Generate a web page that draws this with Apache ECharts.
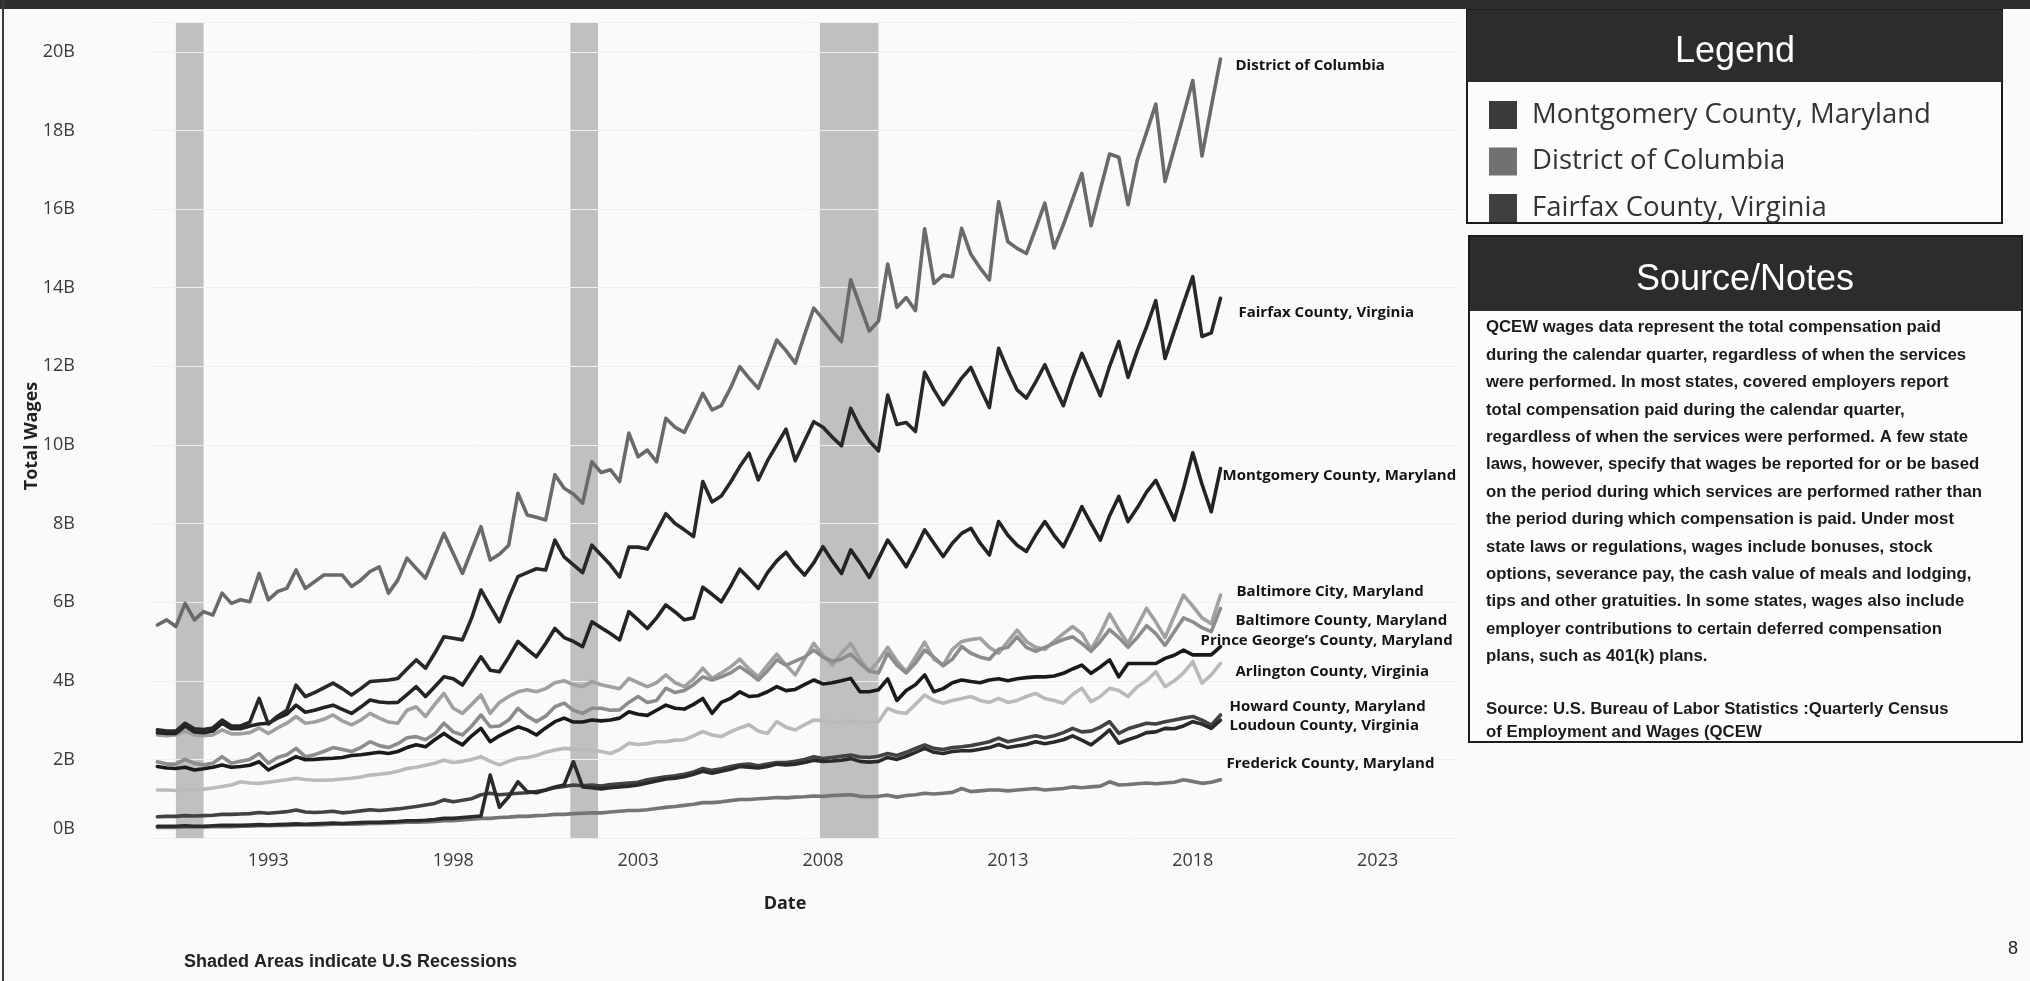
<!DOCTYPE html>
<html>
<head>
<meta charset="utf-8">
<script src="https://cdn.jsdelivr.net/npm/echarts@6/dist/echarts.min.js"></script>
<style>
  html, body { margin: 0; padding: 0; background: #fafafa; }
  #chart { width: 2030px; height: 981px; }
</style>
</head>
<body>
<div id="chart"></div>
<script>
// Quarterly total wages, billions of dollars, 1990 Q1 through 2018 Q4 (QCEW)
const firstYear = 1990;
const quarterCount = 116;
const yearTicks = [1993, 1998, 2003, 2008, 2013, 2018, 2023];
// US recessions (peak month to trough month), as decimal years
const recessions = [[1990.5, 1991.25], [2001.167, 2001.917], [2007.917, 2009.5]];

const districtOfColumbia = [
  5.42, 5.55, 5.38, 5.97,  5.55, 5.76, 5.67, 6.23,  5.97, 6.06, 6.01, 6.73,
  6.06, 6.27, 6.35, 6.82,  6.35, 6.52, 6.69, 6.69,  6.69, 6.40, 6.56, 6.78,
  6.90, 6.23, 6.56, 7.12,  6.86, 6.61, 7.18, 7.75,  7.24, 6.73, 7.33, 7.92,
  7.07, 7.22, 7.45, 8.77,  8.22, 8.16, 8.09, 9.24,  8.90, 8.75, 8.52, 9.57,
  9.30, 9.37, 9.07, 10.30, 9.70, 9.87, 9.57, 10.68, 10.45, 10.32, 10.80, 11.31,
  10.89, 11.00, 11.45, 11.99, 11.70, 11.44, 12.05, 12.67, 12.40, 12.08, 12.80, 13.48,
  13.20, 12.90, 12.63, 14.20, 13.55, 12.90, 13.15, 14.60, 13.50, 13.75, 13.42, 15.50,
  14.11, 14.32, 14.28, 15.51, 14.85, 14.50, 14.20, 16.19, 15.17, 15.00, 14.87, 15.50,
  16.15, 15.01, 15.60, 16.25, 16.91, 15.58, 16.50, 17.40, 17.32, 16.11, 17.25, 17.95,
  18.67, 16.70, 17.55, 18.40, 19.27, 17.35, 18.60, 19.82
];
const fairfax = [
  2.75, 2.72, 2.72, 2.92,  2.78, 2.76, 2.80, 3.00,  2.85, 2.85, 2.95, 3.55,
  2.90, 3.10, 3.25, 3.89,  3.60, 3.70, 3.82, 3.94,  3.80, 3.64, 3.80, 3.98,
  4.00, 4.02, 4.06, 4.30,  4.53, 4.32, 4.70, 5.12,  5.08, 5.04, 5.60, 6.31,
  5.90, 5.50, 6.10, 6.65,  6.75, 6.85, 6.82, 7.58,  7.15, 6.95, 6.75, 7.45,
  7.20, 6.95, 6.64, 7.40,  7.40, 7.35, 7.80, 8.25,  8.00, 7.84, 7.67, 9.07,
  8.55, 8.70, 9.05, 9.45,  9.79, 9.11, 9.60, 10.00, 10.40, 9.60, 10.10, 10.59,
  10.45, 10.20, 9.98, 10.93, 10.45, 10.10, 9.85, 11.27, 10.52, 10.57, 10.34, 11.85,
  11.40, 11.02, 11.35, 11.70, 11.97, 11.45, 10.95, 12.46, 11.90, 11.40, 11.19, 11.60,
  12.04, 11.50, 11.00, 11.70, 12.33, 11.80, 11.25, 12.00, 12.63, 11.72, 12.40, 13.00,
  13.67, 12.20, 12.90, 13.60, 14.28, 12.76, 12.85, 13.73
];
const montgomery = [
  2.68, 2.66, 2.66, 2.85,  2.70, 2.68, 2.72, 2.92,  2.78, 2.78, 2.85, 2.90,
  2.92, 3.05, 3.15, 3.38,  3.20, 3.25, 3.32, 3.38,  3.27, 3.17, 3.33, 3.51,
  3.46, 3.44, 3.45, 3.65,  3.85, 3.60, 3.85, 4.10,  4.05, 3.89, 4.25, 4.61,
  4.27, 4.23, 4.60, 5.00,  4.80, 4.61, 4.95, 5.33,  5.10, 5.00, 4.87, 5.50,
  5.35, 5.20, 5.04, 5.76,  5.55, 5.33, 5.60, 5.93,  5.75, 5.55, 5.60, 6.38,
  6.20, 6.01, 6.40, 6.84,  6.60, 6.35, 6.75, 7.05,  7.27, 6.95, 6.69, 7.00,
  7.41, 7.05, 6.73, 7.33,  7.00, 6.63, 7.10, 7.58,  7.25, 6.90, 7.35, 7.84,
  7.50, 7.16, 7.50, 7.75,  7.88, 7.50, 7.20, 8.05,  7.70, 7.45, 7.29, 7.70,
  8.05, 7.70, 7.41, 7.90,  8.43, 8.00, 7.58, 8.20,  8.69, 8.05, 8.40, 8.80,
  9.10, 8.60, 8.09, 8.90,  9.80, 9.00, 8.30, 9.40
];
const baltimoreCity = [
  2.62, 2.60, 2.62, 2.72,  2.62, 2.60, 2.62, 2.75,  2.65, 2.65, 2.68, 2.80,
  2.66, 2.80, 2.92, 3.09,  2.92, 2.95, 3.02, 3.13,  2.98, 2.88, 3.00, 3.17,
  3.05, 2.95, 2.92, 3.25,  3.34, 3.09, 3.40, 3.68,  3.30, 3.17, 3.40, 3.64,
  3.17, 3.45, 3.60, 3.72,  3.77, 3.72, 3.80, 3.95,  4.00, 3.90, 3.85, 3.98,
  3.90, 3.85, 3.80, 4.06,  3.95, 3.85, 3.95, 4.15,  3.95, 3.85, 4.05, 4.32,
  4.06, 4.20, 4.35, 4.55,  4.30, 4.10, 4.40, 4.68,  4.40, 4.15, 4.55, 4.95,
  4.65, 4.40, 4.70, 4.95,  4.55, 4.23, 4.50, 4.85,  4.50, 4.23, 4.60, 4.98,
  4.55, 4.40, 4.80, 5.00,  5.05, 5.08, 4.85, 4.70,  5.00, 5.29, 5.00, 4.85,
  4.80, 5.00, 5.20, 5.38,  5.20, 4.80, 5.20, 5.70,  5.30, 4.95, 5.40, 5.84,
  5.50, 5.10, 5.65, 6.18,  5.90, 5.60, 5.45, 6.18
];
const baltimoreCounty = [
  1.94, 1.88, 1.88, 2.00,  1.90, 1.86, 1.90, 2.07,  1.90, 1.95, 2.00, 2.15,
  1.90, 2.05, 2.12, 2.28,  2.07, 2.12, 2.20, 2.30,  2.25, 2.20, 2.30, 2.45,
  2.35, 2.30, 2.40, 2.55,  2.58, 2.50, 2.65, 2.92,  2.70, 2.62, 2.85, 3.13,
  2.83, 2.85, 3.00, 3.30,  3.10, 2.96, 3.10, 3.34,  3.43, 3.25, 3.17, 3.30,
  3.30, 3.25, 3.26, 3.45,  3.60, 3.45, 3.50, 3.81,  3.70, 3.75, 3.90, 4.10,
  4.02, 4.10, 4.20, 4.36,  4.20, 4.02, 4.25, 4.53,  4.40, 4.50, 4.60, 4.78,
  4.60, 4.50, 4.55, 4.68,  4.45, 4.25, 4.20, 4.70,  4.40, 4.20, 4.45, 4.78,
  4.60, 4.38, 4.55, 4.87,  4.70, 4.60, 4.55, 4.80,  4.85, 5.12, 4.85, 4.75,
  4.85, 4.95, 5.05, 5.12,  4.95, 4.75, 5.00, 5.30,  5.10, 4.85, 5.10, 5.40,
  5.20, 4.90, 5.25, 5.60,  5.50, 5.35, 5.25, 5.84
];
const princeGeorges = [
  1.82, 1.78, 1.77, 1.80,  1.73, 1.76, 1.80, 1.86,  1.80, 1.82, 1.85, 1.94,
  1.73, 1.85, 1.95, 2.07,  1.99, 2.00, 2.02, 2.03,  2.05, 2.10, 2.12, 2.15,
  2.18, 2.15, 2.20, 2.30,  2.37, 2.32, 2.50, 2.66,  2.50, 2.37, 2.60, 2.79,
  2.45, 2.60, 2.72, 2.83,  2.75, 2.62, 2.80, 2.96,  3.05, 2.95, 2.95, 3.00,
  2.98, 3.00, 3.05, 3.21,  3.15, 3.12, 3.25, 3.38,  3.30, 3.28, 3.40, 3.55,
  3.17, 3.45, 3.55, 3.72,  3.60, 3.62, 3.72, 3.85,  3.75, 3.78, 3.90, 4.02,
  3.92, 3.95, 4.00, 4.06,  3.72, 3.72, 3.77, 4.05,  3.50, 3.75, 3.90, 4.15,
  3.72, 3.80, 3.95, 4.02,  3.98, 3.95, 4.02, 4.05,  4.00, 4.05, 4.08, 4.10,
  4.10, 4.12, 4.19, 4.30,  4.40, 4.19, 4.35, 4.53,  4.10, 4.44, 4.44, 4.44,
  4.44, 4.57, 4.65, 4.78,  4.66, 4.66, 4.66, 4.87
];
const arlington = [
  1.22, 1.22, 1.21, 1.23,  1.22, 1.24, 1.27, 1.31,  1.35, 1.43, 1.40, 1.39,
  1.42, 1.45, 1.48, 1.52,  1.49, 1.47, 1.47, 1.48,  1.50, 1.52, 1.55, 1.60,
  1.62, 1.65, 1.70, 1.77,  1.80, 1.85, 1.90, 1.98,  1.92, 1.95, 2.00, 2.07,
  1.95, 1.86, 1.95, 2.03,  2.05, 2.10, 2.18, 2.24,  2.28, 2.26, 2.24, 2.24,
  2.20, 2.15, 2.25, 2.41,  2.38, 2.40, 2.45, 2.45,  2.49, 2.50, 2.60, 2.71,
  2.62, 2.58, 2.70, 2.80,  2.88, 2.72, 2.66, 2.96,  2.82, 2.75, 2.88, 3.00,
  2.98, 2.95, 2.95, 2.96,  2.95, 2.95, 2.96, 3.30,  3.20, 3.17, 3.40, 3.64,
  3.50, 3.43, 3.50, 3.55,  3.60, 3.50, 3.45, 3.55,  3.45, 3.50, 3.60, 3.68,
  3.55, 3.50, 3.43, 3.65,  3.81, 3.47, 3.60, 3.81,  3.75, 3.60, 3.85, 4.00,
  4.23, 3.85, 4.00, 4.20,  4.49, 3.94, 4.15, 4.44
];
const howard = [
  0.54, 0.55, 0.55, 0.57,  0.56, 0.57, 0.58, 0.60,  0.60, 0.61, 0.62, 0.65,
  0.63, 0.65, 0.67, 0.71,  0.66, 0.65, 0.66, 0.68,  0.64, 0.66, 0.69, 0.72,
  0.70, 0.72, 0.74, 0.77,  0.80, 0.84, 0.88, 0.97,  0.92, 0.96, 1.00, 1.10,
  1.14, 1.10, 1.12, 1.14,  1.15, 1.18, 1.22, 1.28,  1.31, 1.35, 1.33, 1.35,
  1.32, 1.36, 1.38, 1.40,  1.42, 1.48, 1.52, 1.56,  1.58, 1.62, 1.68, 1.77,
  1.72, 1.76, 1.82, 1.86,  1.88, 1.84, 1.88, 1.92,  1.92, 1.95, 2.00, 2.07,
  2.02, 2.05, 2.08, 2.11,  2.06, 2.05, 2.08, 2.15,  2.10, 2.18, 2.28, 2.37,
  2.28, 2.25, 2.30, 2.32,  2.35, 2.40, 2.45, 2.54,  2.45, 2.50, 2.55, 2.60,
  2.55, 2.60, 2.68, 2.79,  2.70, 2.72, 2.82, 2.96,  2.66, 2.78, 2.85, 2.92,
  2.90, 2.96, 3.00, 3.05,  3.09, 3.00, 2.87, 3.13
];
const loudoun = [
  0.30, 0.30, 0.30, 0.31,  0.30, 0.30, 0.31, 0.32,  0.32, 0.32, 0.33, 0.34,
  0.33, 0.34, 0.35, 0.36,  0.35, 0.36, 0.37, 0.38,  0.37, 0.38, 0.39, 0.40,
  0.40, 0.41, 0.42, 0.44,  0.44, 0.45, 0.47, 0.50,  0.50, 0.52, 0.54, 0.56,
  1.60, 0.78, 1.05, 1.43,  1.18, 1.15, 1.22, 1.30,  1.35, 1.94, 1.30, 1.28,
  1.25, 1.28, 1.30, 1.32,  1.35, 1.40, 1.45, 1.50,  1.52, 1.56, 1.62, 1.70,
  1.65, 1.70, 1.75, 1.82,  1.80, 1.78, 1.82, 1.88,  1.86, 1.88, 1.92, 1.98,
  1.95, 1.96, 1.98, 2.02,  1.95, 1.93, 1.95, 2.05,  2.00, 2.08, 2.18, 2.28,
  2.18, 2.15, 2.20, 2.22,  2.22, 2.26, 2.30, 2.38,  2.30, 2.34, 2.38, 2.45,
  2.40, 2.44, 2.50, 2.60,  2.49, 2.37, 2.55, 2.75,  2.41, 2.50, 2.58, 2.68,
  2.70, 2.79, 2.78, 2.85,  2.96, 2.90, 2.79, 3.00
];
const frederick = [
  0.27, 0.27, 0.27, 0.28,  0.28, 0.28, 0.29, 0.29,  0.29, 0.30, 0.30, 0.31,
  0.31, 0.32, 0.32, 0.33,  0.33, 0.33, 0.34, 0.35,  0.35, 0.35, 0.36, 0.37,
  0.37, 0.38, 0.39, 0.40,  0.40, 0.41, 0.42, 0.44,  0.44, 0.46, 0.48, 0.50,
  0.50, 0.52, 0.53, 0.55,  0.55, 0.57, 0.58, 0.60,  0.60, 0.62, 0.63, 0.64,
  0.64, 0.66, 0.68, 0.70,  0.70, 0.72, 0.75, 0.78,  0.80, 0.83, 0.86, 0.90,
  0.90, 0.92, 0.95, 0.98,  0.98, 1.00, 1.01, 1.03,  1.02, 1.04, 1.05, 1.07,
  1.06, 1.08, 1.09, 1.10,  1.06, 1.05, 1.06, 1.09,  1.04, 1.08, 1.10, 1.14,
  1.12, 1.14, 1.16, 1.26,  1.18, 1.20, 1.22, 1.22,  1.20, 1.22, 1.24, 1.26,
  1.22, 1.24, 1.26, 1.30,  1.28, 1.30, 1.32, 1.43,  1.35, 1.36, 1.38, 1.40,
  1.38, 1.40, 1.42, 1.48,  1.44, 1.39, 1.42, 1.48
];

const noteLines = [
  'QCEW wages data represent the total compensation paid',
  'during the calendar quarter, regardless of when the services',
  'were performed. In most states, covered employers report',
  'total compensation paid during the calendar quarter,',
  'regardless of when the services were performed. A few state',
  'laws, however, specify that wages be reported for or be based',
  'on the period during which services are performed rather than',
  'the period during which compensation is paid. Under most',
  'state laws or regulations, wages include bonuses, stock',
  'options, severance pay, the cash value of meals and lodging,',
  'tips and other gratuities. In some states, wages also include',
  'employer contributions to certain deferred compensation',
  'plans, such as 401(k) plans.'
];
const sourceLines = [
  'Source: U.S. Bureau of Labor Statistics :Quarterly Census',
  'of Employment and Wages (QCEW'
];

// Quarter positions on the date axis (quarter start as decimal year)
const quarterDates = [];
for (let i = 0; i < quarterCount; i++) quarterDates.push(firstYear + i / 4);

// Line look and end-label placement for each area
const areas = [
  { name: 'Arlington County, Virginia',       values: arlington,          color: '#bababa', label: [15, 8] },
  { name: 'Baltimore City, Maryland',         values: baltimoreCity,      color: '#a0a0a0', label: [16, -3] },
  { name: 'Baltimore County, Maryland',       values: baltimoreCounty,    color: '#8c8c8c', label: [15, 12] },
  { name: 'Frederick County, Maryland',       values: frederick,          color: '#757575', label: [6, -16] },
  { name: 'District of Columbia',             values: districtOfColumbia, color: '#6a6a6a', label: [15, 7] },
  { name: 'Howard County, Maryland',          values: howard,             color: '#424242', label: [9, -8] },
  { name: 'Loudoun County, Virginia',         values: loudoun,            color: '#2a2a2a', label: [9, 6] },
  { name: 'Prince George\u2019s County, Maryland', values: princeGeorges, color: '#1a1a1a', label: [-20, -6] },
  { name: 'Montgomery County, Maryland',      values: montgomery,         color: '#232323', label: [2, 7] },
  { name: 'Fairfax County, Virginia',         values: fairfax,            color: '#282828', label: [18, 14] }
];

const labelFont = '"Open Sans", Lato, sans-serif';

const lineSeries = areas.map(a => ({
  name: a.name,
  type: 'line',
  z: 3,
  data: quarterDates.map((d, i) => [d, a.values[i]]),
  showSymbol: false,
  symbol: 'none',
  lineStyle: { color: a.color, width: 3.6, join: 'round', cap: 'round' },
  itemStyle: { color: a.color },
  emphasis: { disabled: true },
  endLabel: {
    show: true,
    formatter: '{a}',
    distance: 0,
    offset: a.label,
    color: '#141414',
    fontFamily: labelFont,
    fontWeight: 'bold',
    fontSize: 15
  }
}));

const recessionSeries = {
  name: 'Recession',
  type: 'custom',
  z: 0,
  silent: true,
  data: recessions,
  encode: { x: [0, 1] },
  renderItem: (params, api) => {
    const a = api.coord([api.value(0), 0]);
    const b = api.coord([api.value(1), 0]);
    const cs = params.coordSys;
    return {
      type: 'rect',
      shape: { x: a[0], y: cs.y, width: b[0] - a[0], height: cs.height },
      style: { fill: '#c0c0c0' }
    };
  }
};

const notesFont = 'bold 17px "Liberation Sans", Arial, sans-serif';
const graphics = [
  // dark band along the top edge and the frame line on the left
  { type: 'rect', z: 10, shape: { x: 0, y: 0, width: 2030, height: 9 }, style: { fill: '#2e2e2e' } },
  { type: 'rect', z: 10, shape: { x: 2, y: 0, width: 2, height: 981 }, style: { fill: '#3a3a3a' } },

  // axis titles and footnote
  { type: 'text', z: 10, x: 32, y: 436, rotation: Math.PI / 2,
    style: { text: 'Total Wages', font: 'bold 18px "Open Sans", sans-serif', fill: '#222', align: 'center', verticalAlign: 'middle' } },
  { type: 'text', z: 10, x: 785, y: 904,
    style: { text: 'Date', font: 'bold 18px "Open Sans", sans-serif', fill: '#222', align: 'center', verticalAlign: 'middle' } },
  { type: 'text', z: 10, x: 184, y: 962,
    style: { text: 'Shaded Areas indicate U.S Recessions', font: 'bold 18px "Liberation Sans", Arial, sans-serif', fill: '#222', align: 'left', verticalAlign: 'middle' } },
  { type: 'text', z: 10, x: 2013, y: 949,
    style: { text: '8', font: '18px "Liberation Sans", Arial, sans-serif', fill: '#222', align: 'center', verticalAlign: 'middle' } },

  // legend panel
  { type: 'rect', z: 10, shape: { x: 1467, y: 10, width: 535, height: 213 }, style: { fill: '#fcfcfc', stroke: '#1c1c1c', lineWidth: 2 } },
  { type: 'rect', z: 11, shape: { x: 1467, y: 10, width: 535, height: 72 }, style: { fill: '#2c2c2c' } },
  { type: 'text', z: 12, x: 1735, y: 52,
    style: { text: 'Legend', font: '36px "Liberation Sans", Arial, sans-serif', fill: '#ffffff', align: 'center', verticalAlign: 'middle' } },

  // source / notes panel
  { type: 'rect', z: 10, shape: { x: 1469, y: 236, width: 553, height: 506 }, style: { fill: '#fcfcfc' } },
  { type: 'rect', z: 11, shape: { x: 1469, y: 236, width: 553, height: 75 }, style: { fill: '#2c2c2c' } },
  { type: 'text', z: 12, x: 1745, y: 280,
    style: { text: 'Source/Notes', font: '36px "Liberation Sans", Arial, sans-serif', fill: '#ffffff', align: 'center', verticalAlign: 'middle' } },
  { type: 'text', z: 12, x: 1486, y: 314, scaleX: 0.985, originX: 0, originY: 0,
    style: { text: noteLines.join('\n'), font: notesFont, lineHeight: 27.4, fill: '#1a1a1a', align: 'left', verticalAlign: 'top' } },
  { type: 'text', z: 12, x: 1486, y: 698, scaleX: 0.985, originX: 0, originY: 0,
    style: { text: sourceLines.join('\n'), font: notesFont, lineHeight: 23, fill: '#1a1a1a', align: 'left', verticalAlign: 'top' } },
  { type: 'rect', z: 13, shape: { x: 1469, y: 236, width: 553, height: 506 }, style: { fill: 'none', stroke: '#1c1c1c', lineWidth: 2 } }
];

const chart = echarts.init(document.getElementById('chart'), null, { renderer: 'canvas' });
chart.setOption({
  animation: false,
  backgroundColor: '#fafafa',
  grid: { left: 150, top: 22, width: 1309, height: 816, containLabel: false },
  xAxis: {
    type: 'value',
    min: 1989.8,
    max: 2025.2,
    axisLine: { show: false },
    axisTick: { show: false },
    splitLine: { show: false },
    axisLabel: {
      customValues: yearTicks,
      formatter: v => String(v),
      margin: 14,
      fontSize: 18,
      color: '#3a3a3a',
      fontFamily: labelFont
    }
  },
  yAxis: {
    type: 'value',
    min: 0,
    max: 20.76,
    interval: 2,
    z: 1,
    axisLine: { show: false },
    axisTick: { show: false },
    splitLine: { lineStyle: { color: '#f0f0f0', width: 1 } },
    axisLabel: {
      formatter: v => v + 'B',
      showMaxLabel: false,
      verticalAlignMinLabel: 'bottom',
      margin: 75,
      fontSize: 18,
      color: '#3a3a3a',
      fontFamily: labelFont
    }
  },
  legend: {
    z: 20,
    left: 1484,
    top: 96,
    orient: 'vertical',
    icon: 'rect',
    itemWidth: 28,
    itemHeight: 28,
    itemGap: 18.5,
    selectedMode: false,
    textStyle: { fontSize: 27.5, fontFamily: labelFont, color: '#333', padding: [0, 0, 0, 10] },
    data: [
      { name: 'Montgomery County, Maryland', itemStyle: { color: '#3a3a3a' } },
      { name: 'District of Columbia', itemStyle: { color: '#717171' } },
      { name: 'Fairfax County, Virginia', itemStyle: { color: '#3f3f3f' } }
    ]
  },
  series: [recessionSeries].concat(lineSeries),
  graphic: graphics
});
</script>
</body>
</html>
